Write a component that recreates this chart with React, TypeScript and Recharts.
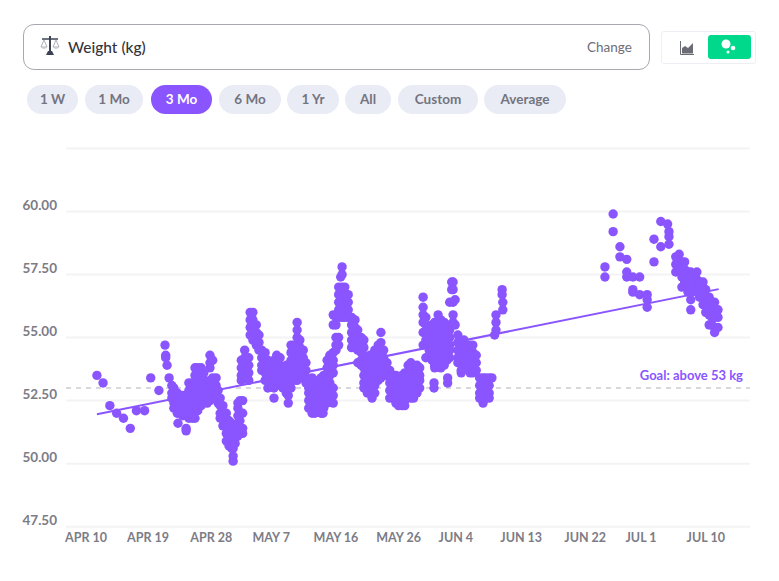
import React from 'react';
import { ComposedChart, Scatter, XAxis, YAxis, CartesianGrid, ReferenceLine } from 'recharts';

type Col = [number, number[]];

const earlyDays: Col[] = [
  [1.6,[53.5]],[2.5,[53.2]],[3.5,[52.3]],[4.5,[52.0]],[5.5,[51.8]],[6.5,[51.4]],[7.4,[52.1]],[8.6,[52.1]],[9.5,[53.4]],[10.7,[52.9]],[11.6,[54.7]],[11.7,[54.2,54.3]],[11.9,[53.9]],[12.2,[53.4]],
];
const aprilDays: Col[] = [
  [12.6,[53.1,52.8,52.6]],[12.9,[53.0,52.7,52.4,52.2]],[13.4,[52.8,52.5,52.2,52.0]],[13.5,[51.6]],[13.8,[52.7,52.4,52.2,52.0]],[14.2,[52.7,52.4,52.1,51.9]],[14.7,[52.7,52.4,52.2,51.9,51.4,51.3]],[15.1,[53.2,52.9,52.6,52.3,52.0,51.8]],[15.6,[53.2,53.0,52.7,52.4,52.1,51.8]],[16.0,[53.8,53.5,53.2,53.0,52.7,52.4,52.1,51.8]],[16.4,[53.8,53.5,53.2,53.0,52.7,52.4,52.1]],[16.9,[53.8,53.5,53.2,53.0,52.7,52.3]],[17.3,[53.6,53.3,52.9,52.5]],[17.8,[53.2,52.9,52.6,52.4]],[18.2,[54.3,54.0,53.8,53.3,53.0,52.8,52.5]],[18.6,[54.1,53.4,53.1,52.8,52.6]],[19.1,[53.4,53.1,52.8]],[19.4,[52.9,52.6,52.4]],[19.7,[52.6,52.3,52.0,51.8]],[20.1,[52.3,52.0,51.8,51.5]],[20.6,[52.0,51.8,51.5,51.2,50.9]],[21.0,[51.7,51.4,51.2,50.9,50.7]],[21.4,[51.6,51.4,51.1,50.8,50.6]],[21.6,[50.6,50.3,50.1]],[21.9,[51.5,51.3,51.0,50.8]],[22.3,[52.4,52.2,51.9,51.6,51.4,51.1]],[22.6,[52.5,52.0,51.7,51.4,51.2]],[22.8,[54.1,53.8,53.5,53.3]],[23.0,[52.5,52.0,51.4,51.2]],[23.3,[54.5,54.2,53.9,53.7,53.4]],[23.9,[54.2,53.9,53.6,53.3]],
];
const mayEarlyDays: Col[] = [
  [24.1,[56.0,55.7,55.4,55.1]],[24.5,[56.0,55.7,55.4,55.1,54.9]],[25.0,[55.5,55.2,54.9,54.7]],[25.4,[55.1,54.8,54.5]],[25.8,[54.5,54.2,53.9,53.7]],[26.3,[54.4,54.1,53.9,53.6,53.3]],[26.7,[54.1,53.8,53.5,53.3,53.0]],[27.2,[53.9,53.6,53.3,53.1]],[27.6,[54.1,53.8,53.5,53.3,53.0,52.6]],[28.0,[54.3,54.0,53.7,53.5,53.2]],[28.5,[54.2,53.9,53.6,53.3,53.1]],[28.9,[53.8,53.5,53.2,53.0]],[29.4,[53.9,53.6,53.3,53.1,52.8]],[29.7,[53.5,53.2,53.0,52.7,52.4]],[30.1,[54.7,54.4,54.1,53.9,53.6,53.3,53.0]],[30.5,[54.7,54.4,54.1,53.9,53.6,53.3]],[31.0,[55.6,55.3,55.0,54.7,54.5,54.2,53.9,53.6,53.3]],[31.4,[54.9,54.6,54.3,54.1,53.8,53.5]],[31.9,[54.5,54.2,53.9,53.7,53.4]],[32.3,[54.0,53.7,53.4,53.2]],
];
const mayLateDays: Col[] = [
  [32.7,[53.3,53.0,52.8,52.5,52.2]],[33.2,[53.4,53.1,52.8,52.6,52.3,52.0]],[33.6,[53.3,53.0,52.8,52.5,52.2,52.0]],[34.1,[53.2,53.0,52.7,52.4,52.1]],[34.5,[53.4,53.1,52.8,52.6,52.3,52.0]],[34.8,[52.0]],[34.9,[53.5,53.2,53.0,52.7,52.4,52.2]],[35.4,[54.1,53.8,53.5,53.3,53.0,52.7,52.4]],[35.8,[54.3,54.0,53.7,53.5,53.2,52.9,52.6]],[36.3,[55.9,55.5,54.4,54.1,53.9,53.6,53.0,52.7,52.4]],[36.7,[55.8,55.5,55.0,54.7,54.5]],[37.1,[57.0,56.7,56.4,56.1,55.8,55.0,54.7]],[37.4,[57.4]],[37.6,[57.8,57.5,57.0,56.7,56.4,56.1,55.8]],[38.0,[57.0,56.7,56.4,56.1,55.8]],[38.5,[56.7,56.4,56.1,55.8]],[39.0,[55.8,55.5,55.2,54.9,54.6]],[39.5,[55.7,55.4,55.1,54.9,54.6]],[39.9,[55.3,55.0,54.7,54.5,54.0]],[40.4,[55.0,54.7,54.4,54.1,53.9]],[40.8,[54.9,54.6,54.3,54.1,53.8,53.5,53.2,53.0]],[41.3,[54.1,53.8,53.5,53.3,53.0,52.8]],[41.7,[54.3,54.0,53.7,53.5,53.2,52.9]],[42.0,[54.2,53.9,53.6,52.6]],[42.4,[54.5,54.2,53.9,53.7,53.4,53.1,52.8]],[42.9,[54.7,54.4,54.1,53.9,53.6,53.3]],[43.3,[55.2,54.8,54.5,54.2,53.9,53.7,53.4]],[43.7,[54.5,54.2,53.9,53.7]],[44.2,[54.0,53.7,53.5]],[44.6,[53.7,53.4,53.2,52.9,52.6]],
  [45.1,[53.4,53.1,52.8,52.6]],[45.5,[53.5,53.2,53.0,52.7,52.4]],[45.9,[53.4,53.1,52.8,52.6,52.3]],[46.4,[53.5,53.2,53.0,52.7,52.4,52.3]],[46.8,[53.6,53.3,53.1,52.8,52.5,52.3]],[47.3,[53.9,53.6,53.3,53.0,52.8]],[47.7,[54.0,53.7,53.5,53.2,52.9,52.6]],[48.1,[53.8,53.5,53.2,53.0,52.6]],[48.6,[53.9,53.6,53.3,53.1,52.8]],[49.0,[53.8,53.5,53.3,53.0]],
];
const juneDays: Col[] = [
  [49.5,[56.6,56.2,55.9,55.6,55.2,54.7]],[49.9,[55.8,55.5,55.2,54.9,54.2]],[50.4,[55.4,55.1,54.8,54.5,54.3]],[50.8,[55.5,55.2,54.9,54.7,54.4,54.1]],[51.1,[53.2,53.0]],[51.2,[55.6,55.3,55.0,54.8,54.5,54.2,53.9,53.8]],[51.7,[55.9,55.6,55.3,55.0,54.8,54.5,54.2,53.9]],[52.1,[55.7,55.4,55.1,54.8,54.6,54.3,54.0,53.8]],[52.6,[55.6,55.3,55.0,54.7,54.5,54.2,53.9]],[53.0,[55.5,55.2,54.9,54.7,54.4,54.1]],[53.1,[53.4,53.2]],[53.4,[56.4,55.3,55.0,54.7,54.5,54.2]],[53.7,[57.2,56.9]],[53.9,[57.2,56.9,56.4,55.9,55.6]],[54.2,[56.5,55.5]],[54.6,[55.1,54.8,54.5,54.2,54.0]],[55.1,[54.6,54.3,54.0,53.7,53.6]],[55.5,[54.9,54.6,54.3,54.1,53.8]],[55.9,[54.7,54.4,54.1,53.9]],[56.4,[54.7,54.4,54.1,53.9,53.6]],[56.8,[54.7,54.4,54.1,53.8,53.6]],[57.3,[54.3,54.0,53.7]],[57.8,[53.4,53.1,52.8,52.6]],[58.3,[53.4,53.1,52.8,52.6,52.4]],[58.7,[53.4,53.1,52.8,52.6]],[59.2,[53.4,53.1,52.8,52.6]],[59.6,[53.4]],[60.0,[55.1]],[60.2,[55.9,55.6,55.3]],[61.1,[56.9,56.7]],[61.2,[56.4,56.1]],
];
const julyDays: Col[] = [
  [76.2,[57.8,57.4]],[77.4,[59.9,59.2]],[78.4,[58.6,58.2]],[79.4,[58.1,57.6,57.4]],[80.3,[57.4,56.9,56.8]],[81.3,[57.4,56.7]],[82.4,[56.7,56.5,56.2]],[83.4,[58.9,58.0]],[84.4,[59.6,58.6]],[85.4,[59.5]],[85.6,[59.2,59.0,58.7]],
  [86.6,[58.2,57.9,57.6]],[87.1,[58.3,58.0,57.7]],[87.5,[58.0,57.7,57.4,57.0]],[87.9,[58.0,57.7,57.4,57.2]],[88.4,[57.6,57.3,57.0,56.8]],[88.8,[57.6,57.3,57.0,56.8,56.5,56.1]],[89.3,[57.5,57.2,57.0]],[89.7,[57.6,57.3,57.0,56.8]],[90.1,[57.2,56.9,56.6]],[90.6,[57.2,57.0,56.6,56.3]],[91.0,[56.9,56.6,56.3,56.0]],[91.5,[56.6,56.3,56.0,55.9,55.5]],[91.9,[56.4,56.1,55.8,55.5]],[92.3,[56.4,56.1,55.8,55.4,55.2]],[92.8,[56.1,55.8,55.4]],
];

const xTickDays = [0, 9.1, 18.4, 27.2, 36.7, 45.9, 54.3, 63.9, 73.3, 81.5, 91];
const xTickLabels = ['APR 10', 'APR 19', 'APR 28', 'MAY 7', 'MAY 16', 'MAY 26', 'JUN 4', 'JUN 13', 'JUN 22', 'JUL 1', 'JUL 10'];
const yTicks = [47.5, 50, 52.5, 55, 57.5, 60, 62.5];
const yTickLabels: Record<number, string> = { 47.5: '47.50', 50: '50.00', 52.5: '52.50', 55: '55.00', 57.5: '57.50', 60: '60.00' };
const trendStart = { x: 1.6, y: 51.96 };
const trendEnd = { x: 92.9, y: 56.92 };
const goalValue = 53;
const goalText = 'Goal: above 53 kg';
const pills = ['1 W', '1 Mo', '3 Mo', '6 Mo', '1 Yr', 'All', 'Custom', 'Average'];
const activePill = '3 Mo';

const points = [...earlyDays, ...aprilDays, ...mayEarlyDays, ...mayLateDays, ...juneDays, ...julyDays].flatMap(
  ([day, kgs]) => kgs.map((kg) => ({ day, kg })),
);

const FONT = 'Lato, sans-serif';
const PURPLE = '#8a55ff';
const GRAY = '#7c7c86';

const pillBoxes: [number, number][] = [[27, 51], [85, 58], [151, 61], [219, 62], [287, 52], [345, 46], [398, 80], [484, 82]];

const YTick = (p: any) => (
  <text x={57} y={p.y - 6.5} textAnchor="end" dominantBaseline="central" fontFamily={FONT} fontWeight={700} fontSize={13.5} fill={GRAY}>
    {yTickLabels[p.payload.value]}
  </text>
);
const XTick = (p: any) => (
  <text x={p.x} y={537} textAnchor="middle" dominantBaseline="central" fontFamily={FONT} fontWeight={700} fontSize={12.5} fill={GRAY}>
    {xTickLabels[xTickDays.indexOf(p.payload.value)]}
  </text>
);
const Dot = (p: any) => <circle cx={p.cx} cy={p.cy} r={4.7} fill={PURPLE} />;

const ScaleIcon = () => (
  <svg width={20} height={24} viewBox="0 0 20 24" style={{ position: 'absolute', left: 40, top: 34 }}>
    <rect x={9} y={2} width={2} height={17} fill="#3d4354" />
    <path d="M6 21 L14 21 L12 17 L8 17 Z" fill="#3d4354" />
    <path d="M2 5 L18 5" stroke="#3d4354" strokeWidth={1.5} />
    <path d="M4 6 L1 13 L7 13 Z M16 6 L13 13 L19 13 Z" fill="none" stroke="#9a9ea8" strokeWidth={0.8} />
    <path d="M1 13 Q4 17 7 13 Z M13 13 Q16 17 19 13 Z" fill="#c9ccd4" />
  </svg>
);

export default function App() {
  return (
    <div style={{ position: 'absolute', left: 0, top: 0, width: 779, height: 581, background: '#fff', fontFamily: FONT, overflow: 'hidden' }}>
      <div style={{ position: 'absolute', left: 23, top: 24, width: 625, height: 44, border: '1px solid #a8a8b0', borderRadius: 11 }} />
      <ScaleIcon />
      <div style={{ position: 'absolute', left: 68, top: 37, fontSize: 15.5, fontWeight: 500, color: '#33343a', lineHeight: '20px' }}>Weight (kg)</div>
      <div style={{ position: 'absolute', left: 587, top: 38, fontSize: 13.5, color: '#6e6e78', lineHeight: '18px' }}>Change</div>
      <div style={{ position: 'absolute', left: 661, top: 31, width: 93, height: 31, border: '1px solid #eeeff5', borderRadius: 3 }} />
      <svg width={14} height={14} viewBox="0 0 14 14" style={{ position: 'absolute', left: 680, top: 41 }}>
        <path d="M0.5 0 L0.5 13.5 L14 13.5" fill="none" stroke="#6b6d75" strokeWidth={1} />
        <path d="M2 12.5 L2 7 L5 5 L8 7 L13 2 L13 12.5 Z" fill="#6b6d75" />
      </svg>
      <div style={{ position: 'absolute', left: 708, top: 35, width: 43, height: 24, background: '#00d98b', borderRadius: 3 }} />
      <svg width={20} height={18} viewBox="0 0 20 18" style={{ position: 'absolute', left: 720, top: 38 }}>
        <circle cx={6} cy={6} r={4.5} fill="#fff" />
        <circle cx={13} cy={10} r={2.3} fill="#fff" />
        <circle cx={8} cy={14} r={1.5} fill="#fff" />
      </svg>
      {pills.map((pill, i) => {
        const active = pill === activePill;
        return (
          <div
            key={pill}
            style={{
              position: 'absolute', left: pillBoxes[i][0], top: 85, width: pillBoxes[i][1], height: 29, borderRadius: 15,
              background: active ? PURPLE : '#e9ecf5', color: active ? '#fff' : '#74747f', fontSize: 13.5, fontWeight: 700,
              textAlign: 'center', lineHeight: '29px',
            }}
          >
            {pill}
          </div>
        );
      })}
      <ComposedChart
        width={779}
        height={581}
        margin={{ top: 148.4, right: 29, bottom: 24.3, left: 0 }}
        style={{ position: 'absolute', left: 0, top: 0 }}
      >
        <CartesianGrid horizontal vertical={false} stroke="#f3f3f5" strokeWidth={2} />
        <XAxis
          type="number"
          dataKey="day"
          domain={[-2.94, 97.5]}
          ticks={xTickDays}
          tick={<XTick />}
          axisLine={false}
          tickLine={false}
          height={30}
          interval={0}
          allowDataOverflow
        />
        <YAxis
          type="number"
          dataKey="kg"
          domain={[47.5, 62.5]}
          ticks={yTicks}
          tick={<YTick />}
          axisLine={false}
          tickLine={false}
          width={66}
          interval={0}
          allowDataOverflow
        />
        <ReferenceLine
          y={goalValue}
          stroke="#b3b3b8"
          strokeWidth={1}
          strokeDasharray="5 5"
          label={{ value: goalText, position: 'insideBottomRight', dx: -2, dy: -3, fill: PURPLE, fontSize: 13, fontWeight: 700, fontFamily: FONT }}
        />
        <ReferenceLine segment={[trendStart, trendEnd]} stroke={PURPLE} strokeWidth={2} />
        <Scatter data={points} fill={PURPLE} shape={<Dot />} isAnimationActive={false} />
      </ComposedChart>
    </div>
  );
}
